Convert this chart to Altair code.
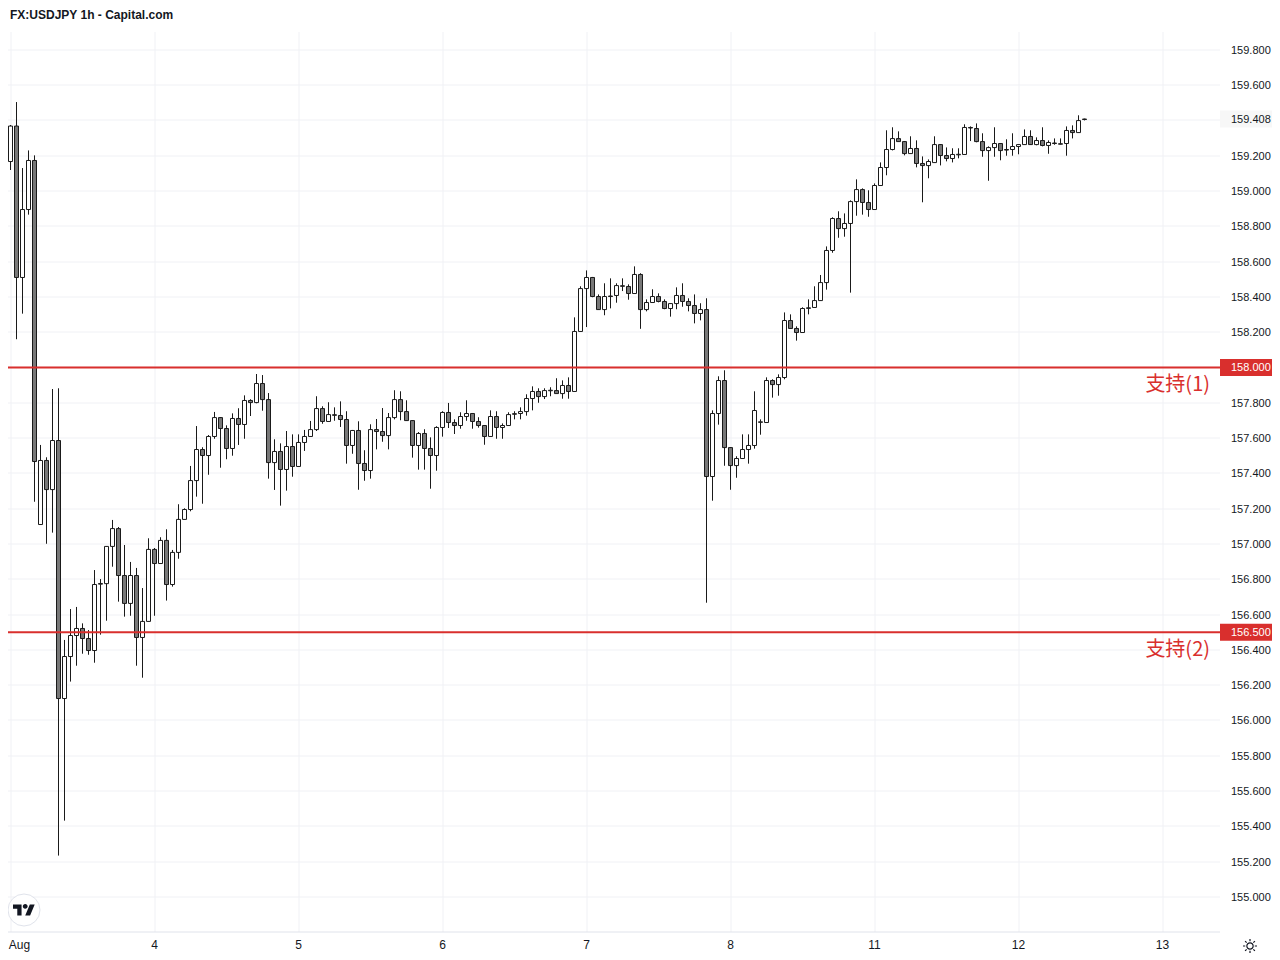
import altair as alt
import pandas as pd

# candle index starts at 0; index 1 is the first tick
highs = [159.425,159.374,159.504,159.130,159.230,159.202,157.561,157.491,157.878,157.882,
156.456,156.631,156.643,156.550,156.512,156.852,156.801,156.988,157.136,157.096,
156.994,156.898,156.864,156.750,157.032,156.977,157.038,157.083,156.966,157.225,
157.202,157.442,157.668,157.548,157.617,157.748,157.719,157.672,157.740,157.769,
157.842,157.820,157.963,157.957,157.855,157.593,157.570,157.640,157.621,157.621,
157.646,157.697,157.837,157.780,157.803,157.774,157.808,157.752,157.646,157.695,
157.531,157.678,157.708,157.770,157.742,157.871,157.865,157.814,157.701,157.634,
157.650,157.604,157.667,157.752,157.799,157.706,157.746,157.814,157.742,157.718,
157.674,157.757,157.752,157.683,157.746,157.752,157.774,157.848,157.893,157.882,
157.882,157.888,157.939,157.927,157.944,158.284,158.460,158.550,158.513,158.414,
158.477,158.505,158.477,158.505,158.471,158.573,158.534,158.386,158.443,158.420,
158.386,158.365,158.454,158.477,158.392,158.414,158.364,158.392,157.757,157.950,
157.984,157.549,157.497,157.621,157.621,157.865,157.706,157.944,157.933,157.961,
158.312,158.301,158.233,158.341,158.386,158.460,158.524,158.686,158.851,158.885,
158.873,158.947,159.066,159.015,159.004,159.043,159.162,159.344,159.361,159.338,
159.283,159.310,159.287,159.196,159.179,159.310,159.266,159.247,159.242,159.242,
159.378,159.366,159.383,159.327,159.253,159.361,159.272,159.293,159.327,159.266,
159.349,159.344,159.304,159.361,159.287,159.298,159.298,159.366,159.372,159.429,
159.410]

body_tops = [159.235,159.368,159.368,158.895,159.173,159.173,157.473,157.473,157.586,157.586,
156.362,156.481,156.521,156.521,156.464,156.770,156.776,156.986,157.087,157.087,
156.821,156.821,156.821,156.561,156.969,156.969,157.020,157.020,156.952,157.139,
157.195,157.359,157.535,157.535,157.609,157.716,157.716,157.654,157.711,157.711,
157.813,157.813,157.909,157.909,157.818,157.524,157.524,157.552,157.552,157.575,
157.609,157.648,157.767,157.767,157.733,157.732,157.728,157.705,157.643,157.643,
157.456,157.648,157.648,157.637,157.716,157.818,157.818,157.750,157.699,157.626,
157.626,157.541,157.660,157.745,157.745,157.688,157.722,157.739,157.739,157.694,
157.671,157.722,157.722,157.671,157.733,157.738,157.750,157.824,157.864,157.864,
157.869,157.871,157.869,157.898,157.898,158.204,158.447,158.510,158.510,158.402,
158.402,158.405,158.464,158.463,158.459,158.527,158.527,158.368,158.402,158.402,
158.374,158.362,158.408,158.408,158.374,158.351,158.328,158.328,157.739,157.926,
157.926,157.546,157.484,157.535,157.558,157.756,157.692,157.926,157.926,157.943,
158.266,158.266,158.221,158.334,158.338,158.379,158.481,158.663,158.844,158.844,
158.816,158.940,159.008,159.008,158.935,159.031,159.133,159.235,159.297,159.297,
159.280,159.241,159.241,159.156,159.167,159.263,159.263,159.201,159.207,159.208,
159.360,159.360,159.354,159.280,159.246,159.269,159.269,159.235,159.252,159.263,
159.309,159.309,159.286,159.286,159.275,159.272,159.268,159.343,159.343,159.399,
159.408]

body_bottoms = [159.167,159.167,158.510,158.510,158.895,157.467,157.110,157.308,157.308,156.124,
156.124,156.362,156.481,156.464,156.396,156.396,156.772,156.775,156.986,156.821,
156.663,156.663,156.470,156.470,156.561,156.889,156.889,156.770,156.770,156.952,
157.139,157.195,157.359,157.501,157.501,157.609,157.654,157.541,157.541,157.677,
157.677,157.801,157.801,157.818,157.461,157.461,157.422,157.422,157.439,157.439,
157.575,157.609,157.648,157.694,157.694,157.729,157.705,157.558,157.558,157.456,
157.416,157.416,157.637,157.614,157.614,157.716,157.750,157.699,157.558,157.558,
157.541,157.501,157.501,157.660,157.688,157.671,157.671,157.722,157.694,157.671,
157.609,157.609,157.660,157.660,157.671,157.735,157.739,157.750,157.824,157.835,
157.835,157.868,157.852,157.852,157.864,157.864,158.204,158.447,158.402,158.328,
158.328,158.402,158.408,158.460,158.419,158.419,158.328,158.328,158.368,158.374,
158.334,158.334,158.362,158.374,158.351,158.306,158.306,157.382,157.382,157.739,
157.546,157.444,157.444,157.484,157.535,157.558,157.689,157.688,157.903,157.903,
157.943,158.221,158.198,158.198,158.335,158.340,158.379,158.481,158.663,158.787,
158.787,158.816,158.940,158.935,158.895,158.895,159.031,159.133,159.235,159.280,
159.212,159.212,159.156,159.144,159.144,159.161,159.201,159.184,159.184,159.205,
159.207,159.357,159.280,159.229,159.229,159.246,159.229,159.232,159.235,159.252,
159.263,159.263,159.263,159.258,159.258,159.269,159.265,159.269,159.331,159.331,
159.405]

lows = [158.848,159.119,158.160,158.305,158.866,157.239,157.110,157.001,157.064,155.234,
155.432,156.220,156.310,156.378,156.372,156.327,156.486,156.565,156.871,156.673,
156.588,156.593,156.310,156.242,156.561,156.593,156.889,156.679,156.758,156.916,
157.139,157.185,157.268,157.228,157.392,157.596,157.432,157.480,157.500,157.561,
157.596,157.725,157.797,157.755,157.370,157.306,157.217,157.302,157.381,157.439,
157.527,157.609,157.640,157.681,157.694,157.698,157.663,157.455,157.511,157.307,
157.358,157.370,157.536,157.579,157.536,157.706,157.701,157.699,157.489,157.421,
157.421,157.313,157.415,157.608,157.657,157.623,157.653,157.698,157.653,157.659,
157.562,157.609,157.596,157.596,157.671,157.706,157.706,157.727,157.757,157.800,
157.821,157.837,157.852,157.823,157.823,157.864,158.204,158.229,158.398,158.328,
158.296,158.335,158.367,158.433,158.384,158.419,158.219,158.318,158.368,158.369,
158.330,158.288,158.330,158.344,158.318,158.250,158.267,156.667,157.245,157.676,
157.443,157.307,157.375,157.484,157.455,157.540,157.619,157.688,157.829,157.840,
157.933,158.221,158.152,158.198,158.301,158.340,158.379,158.441,158.650,158.735,
158.741,158.424,158.860,158.866,158.854,158.895,159.031,159.089,159.230,159.280,
159.202,159.212,159.134,158.936,159.072,159.161,159.145,159.168,159.162,159.185,
159.207,159.283,159.276,159.194,159.058,159.194,159.174,159.200,159.200,159.208,
159.263,159.263,159.259,159.253,159.211,159.262,159.264,159.200,159.298,159.331,
159.400]

directions = ("DUDUUDUDUD" "UUUDDUUUUD" "DUDUUDUDUU" "UUUDUUDDUD" "UDUDDUDUDU"
              "UUUDUDDDUD" "DUDDUUDDDU" "DDUUDDUUDD" "DUDUUDUUUD" "UUDUDUUUDD"
              "UDUDDUDUUD" "DUUDDDUDUU" "DDUUUUUUDU" "UDDUDUUUUD" "UUUDDUUUUD"
              "DUDDUUDDUU" "UDDDUUDDUU" "UDUDUDUUDU" "U")

day_ticks = [1, 25, 49, 73, 97, 121, 145, 169, 193]
day_labels = ["Aug", "4", "5", "6", "7", "8", "11", "12", "13"]
price_ticks = [155.0, 155.2, 155.4, 155.6, 155.8, 156.0, 156.2, 156.4, 156.6, 156.8,
               157.0, 157.2, 157.4, 157.6, 157.8, 158.0, 158.2, 158.4, 158.6, 158.8,
               159.0, 159.2, 159.4, 159.6, 159.8]
levels = [158.0, 156.5]
level_names = ["支持(1)", "支持(2)"]
level_name_prices = [157.900, 156.399]
last_price = 159.408

FONT = "Liberation Sans"
INK = "#131722"
RED = "#d92f2d"
X_DOMAIN = [-0.75, 202.5833]
Y_DOMAIN = [154.801, 159.901]

candles = pd.DataFrame({
    "k": list(range(len(highs))),
    "high": highs, "low": lows, "top": body_tops, "bottom": body_bottoms,
    "dir": list(directions),
})
label_expr = "{" + ",".join(f"{k}:'{t}'" for k, t in zip(day_ticks, day_labels)) + "}[datum.value]"

x = alt.X("k:Q", scale=alt.Scale(domain=X_DOMAIN, nice=False, zero=False, padding=0),
          axis=alt.Axis(values=day_ticks, labelExpr=label_expr, title=None, grid=True, translate=0,
                        gridColor="#f0f1f5", gridWidth=1, tickSize=0, domainColor="#e0e3eb",
                        labelFont=FONT, labelFontSize=12, labelColor=INK, labelPadding=8,
                        labelOffset={"condition": {"test": "datum.value === 1", "value": 9}, "value": 0},
                        labelOverlap=False, labelFlush=False, labelBound=False))
y = alt.Y("low:Q", scale=alt.Scale(domain=Y_DOMAIN, nice=False, zero=False),
          axis=alt.Axis(orient="right", values=price_ticks, tickCount=len(price_ticks), format=".3f",
                        title=None, grid=True, translate=0,
                        gridColor="#f0f1f5", gridWidth=1, tickSize=0, domain=False,
                        labelFont=FONT, labelFontSize=11, labelColor=INK, labelPadding=11,
                        labelOffset=1, labelOverlap=False, labelFlush=False, labelBound=False))

wicks = alt.Chart(candles).mark_rule(color="#1a1a1a", strokeWidth=1).encode(
    x=x, y=y, y2="high:Q")
bodies = alt.Chart(candles).mark_bar(size=4, stroke="#1a1a1a", strokeWidth=1).encode(
    x="k:Q",
    y=alt.Y("top:Q"), y2="bottom:Q",
    fill=alt.Fill("dir:N", scale=alt.Scale(domain=["U", "D"], range=["#ffffff", "#787878"]),
                  legend=None))

lv = pd.DataFrame({"price": levels, "label": [f"{v:.3f}" for v in levels]})
names = pd.DataFrame({"price": level_name_prices, "name": level_names})
last = pd.DataFrame({"price": [last_price], "label": [f"{last_price:.3f}"]})

level_lines = alt.Chart(lv).mark_rule(color=RED, strokeWidth=2).encode(y="price:Q")
level_tags = alt.Chart(lv).mark_rect(color=RED, width=56, height=17).encode(
    x=alt.value(1248), y="price:Q")
level_text = alt.Chart(lv).mark_text(font=FONT, fontSize=11, color="#ffffff", align="left",
                                     baseline="middle", dy=1).encode(
    x=alt.value(1231), y="price:Q", text="label:N")
last_tag = alt.Chart(last).mark_rect(color="#f7f7f7", width=56, height=17).encode(
    x=alt.value(1248), y="price:Q")
last_text = alt.Chart(last).mark_text(font=FONT, fontSize=11, color=INK, align="left",
                                      baseline="middle", dy=1).encode(
    x=alt.value(1231), y="price:Q", text="label:N")
name_text = alt.Chart(names).mark_text(font="Noto Sans CJK SC", fontSize=20, color=RED,
                                       align="right", baseline="middle").encode(
    x=alt.value(1210), y="price:Q", text="name:N")

LOGO = ("M-0.222 0.5H-0.611V-0.111H-1V-0.5H-0.222Z"
        "M0.556 0.5H0.111L0.528 -0.5H0.972Z"
        "M-0.111 -0.333A0.222 0.222 0 1 0 0.333 -0.333A0.222 0.222 0 1 0 -0.111 -0.333Z")
SUN = ("M-0.45 0A0.45 0.45 0 1 0 0.45 0A0.45 0.45 0 1 0 -0.45 0Z"
       "M0 -1V-0.68M0 1V0.68M-1 0H-0.68M1 0H0.68"
       "M-0.7 -0.7L-0.48 -0.48M0.7 -0.7L0.48 -0.48M-0.7 0.7L-0.48 0.48M0.7 0.7L0.48 0.48")
one = pd.DataFrame({"n": [0]})
logo_disc = alt.Chart(one).mark_point(shape="circle", size=1024, filled=True, fill="#ffffff",
                                      stroke="#e0e3eb", strokeWidth=1, opacity=1).encode(
    x=alt.value(24), y=alt.value(878))
logo_mark = alt.Chart(one).mark_point(shape=LOGO, size=484, filled=True, fill=INK,
                                      strokeWidth=0, opacity=1).encode(
    x=alt.value(24), y=alt.value(878))
sun = alt.Chart(one).mark_point(shape=SUN, size=196, filled=False, stroke=INK,
                                strokeWidth=1.2, opacity=1).encode(
    x=alt.value(1250), y=alt.value(914))

chart = alt.layer(
    wicks, bodies, level_lines, level_tags, level_text, last_tag, last_text, name_text,
    logo_disc, logo_mark, sun,
).properties(
    width=1220, height=900, autosize="none", background="#ffffff",
    padding={"left": -8, "top": 24, "right": 52, "bottom": 28},
    title=alt.Title("FX:USDJPY 1h - Capital.com", anchor="start", frame="group", font=FONT,
                    fontSize=12, fontWeight="bold", color=INK, dx=10, offset=10),
).configure_view(stroke=None)

chart.save("out.html", embed_options={"renderer": "svg", "actions": False})
